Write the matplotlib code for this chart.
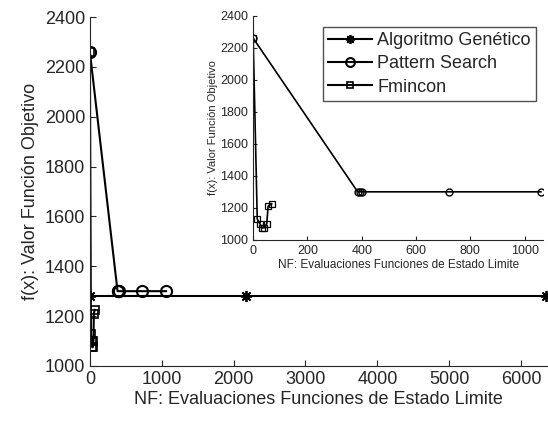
import numpy as np
import matplotlib.pyplot as plt

plt.rcParams['font.family'] = ['Liberation Sans', 'DejaVu Sans']

# Algoritmo Genético
ga_nf = [0, 2170, 6350]
ga_fx = [1280, 1280, 1280]

# Pattern Search
ps_nf = [0, 385, 395, 400, 720, 1060]
ps_fx = [2260, 1300, 1300, 1300, 1300, 1300]

# Fmincon
fm_nf = [0, 15, 25, 33, 41, 50, 55, 68]
fm_fx = [2260, 1130, 1100, 1075, 1075, 1100, 1210, 1225]

main_xticks = np.arange(0, 7000, 1000)
main_yticks = np.arange(1000, 2600, 200)
ins_xticks = np.arange(0, 1200, 200)
ins_yticks = np.arange(1000, 2600, 200)

txt = '#262626'
star = (8, 2, 0)  # asterisk marker

fig = plt.figure(figsize=(5.48, 4.26), dpi=100)
ax = fig.add_axes([0.164, 0.141, 0.834, 0.819])

l1, = ax.plot(ga_nf, ga_fx, '-', marker=star, color='black', lw=1.5, ms=8, mew=1.3,
              label='Algoritmo Genético')
l2, = ax.plot(ps_nf, ps_fx, '-o', color='black', lw=1.5, ms=8, mfc='none', mew=1.5,
              label='Pattern Search')
l3, = ax.plot(fm_nf, fm_fx, '-s', color='black', lw=1.5, ms=6, mfc='none', mew=1.2,
              label='Fmincon')

ax.set_xlim(0, 6360)
ax.set_ylim(1000, 2400)
ax.set_xticks(main_xticks)
ax.set_yticks(main_yticks)
ax.tick_params(direction='in', length=4, labelsize=13, colors=txt, labelcolor=txt)
ax.set_xlabel('NF: Evaluaciones Funciones de Estado Limite', fontsize=13, color=txt,
              labelpad=2)
ax.set_ylabel('f(x): Valor Función Objetivo', fontsize=13, color=txt)
for s in ['top', 'right']:
    ax.spines[s].set_visible(False)
for s in ['left', 'bottom']:
    ax.spines[s].set_color(txt)

# zoom on the first evaluations
ins = fig.add_axes([0.462, 0.437, 0.529, 0.526])
ins.plot(ps_nf, ps_fx, '-o', color='black', lw=1.2, ms=5, mfc='none', mew=1.0)
ins.plot(fm_nf, fm_fx, '-s', color='black', lw=1.2, ms=4, mfc='none', mew=0.9)
ins.set_xlim(0, 1068)
ins.set_ylim(1000, 2400)
ins.set_xticks(ins_xticks)
ins.set_yticks(ins_yticks)
ins.tick_params(direction='in', length=3, labelsize=9, colors=txt, labelcolor=txt)
ins.set_xlabel('NF: Evaluaciones Funciones de Estado Limite', fontsize=8.5, color=txt,
               labelpad=2)
ins.set_ylabel('f(x): Valor Función Objetivo', fontsize=8, color=txt, labelpad=2)
for s in ['top', 'right']:
    ins.spines[s].set_visible(False)
for s in ['left', 'bottom']:
    ins.spines[s].set_color(txt)

leg = ins.legend(handles=[l1, l2, l3], loc='upper right', bbox_to_anchor=(0.976, 0.951),
                 fontsize=13, frameon=True, fancybox=False, edgecolor=txt,
                 handlelength=2.4, handletextpad=0.3, borderpad=0.3, labelspacing=0.35,
                 borderaxespad=0, markerscale=0.8)
leg.get_frame().set_linewidth(1.0)
for t in leg.get_texts():
    t.set_color(txt)

fig.savefig('out.png', dpi=100)
